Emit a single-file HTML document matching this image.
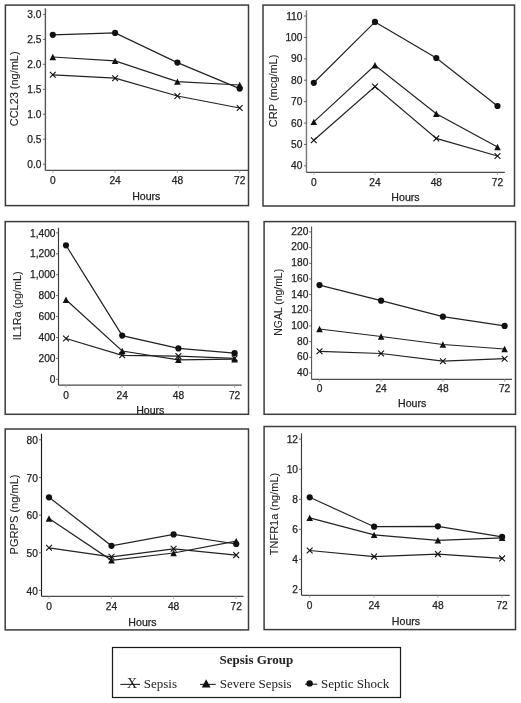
<!DOCTYPE html>
<html><head><meta charset="utf-8"><style>
html,body{margin:0;padding:0;background:#fff;width:521px;height:703px;overflow:hidden}
svg{display:block;will-change:transform}
text{font-family:"Liberation Sans",sans-serif;fill:#222;stroke:#222;stroke-width:0.25px}
</style></head><body>
<svg width="521" height="703" viewBox="0 0 521 703">
<rect width="521" height="703" fill="#fff"/>
<rect x="5.4" y="5.1" width="243.1" height="200.5" fill="none" stroke="#3c3c3c" stroke-width="1.5"/>
<line x1="45.4" y1="8.3" x2="45.4" y2="170.4" stroke="#555" stroke-width="1.4"/>
<line x1="45.4" y1="170.4" x2="248" y2="170.4" stroke="#4a4a4a" stroke-width="1.25"/>
<line x1="42.9" y1="14.4" x2="45.4" y2="14.4" stroke="#4a4a4a" stroke-width="0.8"/>
<text x="41.4" y="18" text-anchor="end" font-size="10.2">3.0</text>
<line x1="42.9" y1="39.4" x2="45.4" y2="39.4" stroke="#4a4a4a" stroke-width="0.8"/>
<text x="41.4" y="43" text-anchor="end" font-size="10.2">2.5</text>
<line x1="42.9" y1="64.3" x2="45.4" y2="64.3" stroke="#4a4a4a" stroke-width="0.8"/>
<text x="41.4" y="67.9" text-anchor="end" font-size="10.2">2.0</text>
<line x1="42.9" y1="89.3" x2="45.4" y2="89.3" stroke="#4a4a4a" stroke-width="0.8"/>
<text x="41.4" y="92.9" text-anchor="end" font-size="10.2">1.5</text>
<line x1="42.9" y1="114.2" x2="45.4" y2="114.2" stroke="#4a4a4a" stroke-width="0.8"/>
<text x="41.4" y="117.8" text-anchor="end" font-size="10.2">1.0</text>
<line x1="42.9" y1="139.2" x2="45.4" y2="139.2" stroke="#4a4a4a" stroke-width="0.8"/>
<text x="41.4" y="142.8" text-anchor="end" font-size="10.2">0.5</text>
<line x1="42.9" y1="164.2" x2="45.4" y2="164.2" stroke="#4a4a4a" stroke-width="0.8"/>
<text x="41.4" y="167.8" text-anchor="end" font-size="10.2">0.0</text>
<line x1="52.8" y1="170.4" x2="52.8" y2="172.9" stroke="#999" stroke-width="0.8"/>
<text x="52.8" y="184" text-anchor="middle" font-size="10.2">0</text>
<line x1="115.1" y1="170.4" x2="115.1" y2="172.9" stroke="#999" stroke-width="0.8"/>
<text x="115.1" y="184" text-anchor="middle" font-size="10.2">24</text>
<line x1="177.4" y1="170.4" x2="177.4" y2="172.9" stroke="#999" stroke-width="0.8"/>
<text x="177.4" y="184" text-anchor="middle" font-size="10.2">48</text>
<line x1="239.7" y1="170.4" x2="239.7" y2="172.9" stroke="#999" stroke-width="0.8"/>
<text x="239.7" y="184" text-anchor="middle" font-size="10.2">72</text>
<text x="146.3" y="199.8" text-anchor="middle" font-size="10.6">Hours</text>
<text transform="translate(18.3,88.85) rotate(-90)" x="0" y="0" text-anchor="middle" font-size="10.9" style="stroke-width:0.08px" textLength="74.8" lengthAdjust="spacingAndGlyphs">CCL23 (ng/mL)</text>
<polyline points="52.8,74.8 115.1,78.2 177.4,96 239.7,108" fill="none" stroke="#222" stroke-width="1.2"/>
<polyline points="52.8,57 115.1,60.9 177.4,81.6 239.7,85" fill="none" stroke="#222" stroke-width="1.2"/>
<polyline points="52.8,34.8 115.1,32.9 177.4,62.6 239.7,88.6" fill="none" stroke="#222" stroke-width="1.2"/>
<path d="M49.9 71.9L55.7 77.7M55.7 71.9L49.9 77.7" stroke="#111" stroke-width="1.1" fill="none"/>
<path d="M112.2 75.3L118 81.1M118 75.3L112.2 81.1" stroke="#111" stroke-width="1.1" fill="none"/>
<path d="M174.5 93.1L180.3 98.9M180.3 93.1L174.5 98.9" stroke="#111" stroke-width="1.1" fill="none"/>
<path d="M236.8 105.1L242.6 110.9M242.6 105.1L236.8 110.9" stroke="#111" stroke-width="1.1" fill="none"/>
<polygon points="52.8,53.8 56.1,60.2 49.5,60.2" fill="#111"/>
<polygon points="115.1,57.7 118.4,64.1 111.8,64.1" fill="#111"/>
<polygon points="177.4,78.4 180.7,84.8 174.1,84.8" fill="#111"/>
<polygon points="239.7,81.8 243,88.2 236.4,88.2" fill="#111"/>
<circle cx="52.8" cy="34.8" r="3.1" fill="#111"/>
<circle cx="115.1" cy="32.9" r="3.1" fill="#111"/>
<circle cx="177.4" cy="62.6" r="3.1" fill="#111"/>
<circle cx="239.7" cy="88.6" r="3.1" fill="#111"/>
<rect x="263" y="5.1" width="251.5" height="200.9" fill="none" stroke="#3c3c3c" stroke-width="1.5"/>
<line x1="306.45" y1="10.4" x2="306.45" y2="172.3" stroke="#777" stroke-width="1.4"/>
<line x1="306.45" y1="172.3" x2="504.8" y2="172.3" stroke="#4a4a4a" stroke-width="1.25"/>
<line x1="303.95" y1="16" x2="306.45" y2="16" stroke="#4a4a4a" stroke-width="0.8"/>
<text x="302.45" y="19.6" text-anchor="end" font-size="10.2">110</text>
<line x1="303.95" y1="37.41" x2="306.45" y2="37.41" stroke="#4a4a4a" stroke-width="0.8"/>
<text x="302.45" y="41.01" text-anchor="end" font-size="10.2">100</text>
<line x1="303.95" y1="58.82" x2="306.45" y2="58.82" stroke="#4a4a4a" stroke-width="0.8"/>
<text x="302.45" y="62.42" text-anchor="end" font-size="10.2">90</text>
<line x1="303.95" y1="80.23" x2="306.45" y2="80.23" stroke="#4a4a4a" stroke-width="0.8"/>
<text x="302.45" y="83.83" text-anchor="end" font-size="10.2">80</text>
<line x1="303.95" y1="101.64" x2="306.45" y2="101.64" stroke="#4a4a4a" stroke-width="0.8"/>
<text x="302.45" y="105.24" text-anchor="end" font-size="10.2">70</text>
<line x1="303.95" y1="123.05" x2="306.45" y2="123.05" stroke="#4a4a4a" stroke-width="0.8"/>
<text x="302.45" y="126.65" text-anchor="end" font-size="10.2">60</text>
<line x1="303.95" y1="144.46" x2="306.45" y2="144.46" stroke="#4a4a4a" stroke-width="0.8"/>
<text x="302.45" y="148.06" text-anchor="end" font-size="10.2">50</text>
<line x1="303.95" y1="165.87" x2="306.45" y2="165.87" stroke="#4a4a4a" stroke-width="0.8"/>
<text x="302.45" y="169.47" text-anchor="end" font-size="10.2">40</text>
<line x1="313.8" y1="172.3" x2="313.8" y2="174.8" stroke="#999" stroke-width="0.8"/>
<text x="313.8" y="185.7" text-anchor="middle" font-size="10.2">0</text>
<line x1="375" y1="172.3" x2="375" y2="174.8" stroke="#999" stroke-width="0.8"/>
<text x="375" y="185.7" text-anchor="middle" font-size="10.2">24</text>
<line x1="436.3" y1="172.3" x2="436.3" y2="174.8" stroke="#999" stroke-width="0.8"/>
<text x="436.3" y="185.7" text-anchor="middle" font-size="10.2">48</text>
<line x1="497.5" y1="172.3" x2="497.5" y2="174.8" stroke="#999" stroke-width="0.8"/>
<text x="497.5" y="185.7" text-anchor="middle" font-size="10.2">72</text>
<text x="405.5" y="201" text-anchor="middle" font-size="10.6">Hours</text>
<text transform="translate(277.4,90.9) rotate(-90)" x="0" y="0" text-anchor="middle" font-size="10.9" style="stroke-width:0.08px" textLength="72.6" lengthAdjust="spacingAndGlyphs">CRP (mcg/mL)</text>
<polyline points="313.8,140.3 375,86.6 436.3,138.4 497.5,156" fill="none" stroke="#222" stroke-width="1.2"/>
<polyline points="313.8,121.9 375,65.2 436.3,113.7 497.5,147" fill="none" stroke="#222" stroke-width="1.2"/>
<polyline points="313.8,82.8 375,21.9 436.3,58 497.5,106" fill="none" stroke="#222" stroke-width="1.2"/>
<path d="M310.9 137.4L316.7 143.2M316.7 137.4L310.9 143.2" stroke="#111" stroke-width="1.1" fill="none"/>
<path d="M372.1 83.7L377.9 89.5M377.9 83.7L372.1 89.5" stroke="#111" stroke-width="1.1" fill="none"/>
<path d="M433.4 135.5L439.2 141.3M439.2 135.5L433.4 141.3" stroke="#111" stroke-width="1.1" fill="none"/>
<path d="M494.6 153.1L500.4 158.9M500.4 153.1L494.6 158.9" stroke="#111" stroke-width="1.1" fill="none"/>
<polygon points="313.8,118.7 317.1,125.1 310.5,125.1" fill="#111"/>
<polygon points="375,62 378.3,68.4 371.7,68.4" fill="#111"/>
<polygon points="436.3,110.5 439.6,116.9 433,116.9" fill="#111"/>
<polygon points="497.5,143.8 500.8,150.2 494.2,150.2" fill="#111"/>
<circle cx="313.8" cy="82.8" r="3.1" fill="#111"/>
<circle cx="375" cy="21.9" r="3.1" fill="#111"/>
<circle cx="436.3" cy="58" r="3.1" fill="#111"/>
<circle cx="497.5" cy="106" r="3.1" fill="#111"/>
<rect x="5.2" y="221.6" width="243.3" height="192.7" fill="none" stroke="#3c3c3c" stroke-width="1.5"/>
<line x1="58.5" y1="227.7" x2="58.5" y2="385.2" stroke="#3a3a3a" stroke-width="1.15"/>
<line x1="58.5" y1="385.2" x2="241.7" y2="385.2" stroke="#4a4a4a" stroke-width="1.25"/>
<line x1="56" y1="232.9" x2="58.5" y2="232.9" stroke="#4a4a4a" stroke-width="0.8"/>
<text x="55.5" y="236.5" text-anchor="end" font-size="10.2">1,400</text>
<line x1="56" y1="253.81" x2="58.5" y2="253.81" stroke="#4a4a4a" stroke-width="0.8"/>
<text x="55.5" y="257.41" text-anchor="end" font-size="10.2">1,200</text>
<line x1="56" y1="274.73" x2="58.5" y2="274.73" stroke="#4a4a4a" stroke-width="0.8"/>
<text x="55.5" y="278.33" text-anchor="end" font-size="10.2">1,000</text>
<line x1="56" y1="295.64" x2="58.5" y2="295.64" stroke="#4a4a4a" stroke-width="0.8"/>
<text x="55.5" y="299.24" text-anchor="end" font-size="10.2">800</text>
<line x1="56" y1="316.56" x2="58.5" y2="316.56" stroke="#4a4a4a" stroke-width="0.8"/>
<text x="55.5" y="320.16" text-anchor="end" font-size="10.2">600</text>
<line x1="56" y1="337.47" x2="58.5" y2="337.47" stroke="#4a4a4a" stroke-width="0.8"/>
<text x="55.5" y="341.07" text-anchor="end" font-size="10.2">400</text>
<line x1="56" y1="358.38" x2="58.5" y2="358.38" stroke="#4a4a4a" stroke-width="0.8"/>
<text x="55.5" y="361.98" text-anchor="end" font-size="10.2">200</text>
<line x1="56" y1="379.3" x2="58.5" y2="379.3" stroke="#4a4a4a" stroke-width="0.8"/>
<text x="55.5" y="382.9" text-anchor="end" font-size="10.2">0</text>
<line x1="66" y1="385.2" x2="66" y2="387.7" stroke="#999" stroke-width="0.8"/>
<text x="66" y="398.6" text-anchor="middle" font-size="10.2">0</text>
<line x1="122.2" y1="385.2" x2="122.2" y2="387.7" stroke="#999" stroke-width="0.8"/>
<text x="122.2" y="398.6" text-anchor="middle" font-size="10.2">24</text>
<line x1="178.4" y1="385.2" x2="178.4" y2="387.7" stroke="#999" stroke-width="0.8"/>
<text x="178.4" y="398.6" text-anchor="middle" font-size="10.2">48</text>
<line x1="234.6" y1="385.2" x2="234.6" y2="387.7" stroke="#999" stroke-width="0.8"/>
<text x="234.6" y="398.6" text-anchor="middle" font-size="10.2">72</text>
<text x="150.3" y="413.6" text-anchor="middle" font-size="10.6">Hours</text>
<text transform="translate(21.3,305.9) rotate(-90)" x="0" y="0" text-anchor="middle" font-size="10.2" style="stroke-width:0.08px" textLength="68.9" lengthAdjust="spacingAndGlyphs">IL1Ra (pg/mL)</text>
<polyline points="66,338.5 122.2,355.3 178.4,356.1 234.6,358.3" fill="none" stroke="#222" stroke-width="1.2"/>
<polyline points="66,299.8 122.2,351 178.4,359.8 234.6,359.2" fill="none" stroke="#222" stroke-width="1.2"/>
<polyline points="66,245.3 122.2,335.6 178.4,348.4 234.6,353.2" fill="none" stroke="#222" stroke-width="1.2"/>
<path d="M63.1 335.6L68.9 341.4M68.9 335.6L63.1 341.4" stroke="#111" stroke-width="1.1" fill="none"/>
<path d="M119.3 352.4L125.1 358.2M125.1 352.4L119.3 358.2" stroke="#111" stroke-width="1.1" fill="none"/>
<path d="M175.5 353.2L181.3 359M181.3 353.2L175.5 359" stroke="#111" stroke-width="1.1" fill="none"/>
<path d="M231.7 355.4L237.5 361.2M237.5 355.4L231.7 361.2" stroke="#111" stroke-width="1.1" fill="none"/>
<polygon points="66,296.6 69.3,303 62.7,303" fill="#111"/>
<polygon points="122.2,347.8 125.5,354.2 118.9,354.2" fill="#111"/>
<polygon points="178.4,356.6 181.7,363 175.1,363" fill="#111"/>
<polygon points="234.6,356 237.9,362.4 231.3,362.4" fill="#111"/>
<circle cx="66" cy="245.3" r="3.1" fill="#111"/>
<circle cx="122.2" cy="335.6" r="3.1" fill="#111"/>
<circle cx="178.4" cy="348.4" r="3.1" fill="#111"/>
<circle cx="234.6" cy="353.2" r="3.1" fill="#111"/>
<rect x="264.1" y="221.6" width="251.4" height="192.7" fill="none" stroke="#3c3c3c" stroke-width="1.5"/>
<line x1="311.55" y1="226.5" x2="311.55" y2="379.4" stroke="#555" stroke-width="1.15"/>
<line x1="311.55" y1="379.4" x2="512" y2="379.4" stroke="#4a4a4a" stroke-width="1.25"/>
<line x1="309.05" y1="231.9" x2="311.55" y2="231.9" stroke="#4a4a4a" stroke-width="0.8"/>
<text x="308.35" y="234.8" text-anchor="end" font-size="10.2">220</text>
<line x1="309.05" y1="247.58" x2="311.55" y2="247.58" stroke="#4a4a4a" stroke-width="0.8"/>
<text x="308.35" y="250.48" text-anchor="end" font-size="10.2">200</text>
<line x1="309.05" y1="263.26" x2="311.55" y2="263.26" stroke="#4a4a4a" stroke-width="0.8"/>
<text x="308.35" y="266.16" text-anchor="end" font-size="10.2">180</text>
<line x1="309.05" y1="278.94" x2="311.55" y2="278.94" stroke="#4a4a4a" stroke-width="0.8"/>
<text x="308.35" y="281.84" text-anchor="end" font-size="10.2">160</text>
<line x1="309.05" y1="294.62" x2="311.55" y2="294.62" stroke="#4a4a4a" stroke-width="0.8"/>
<text x="308.35" y="297.52" text-anchor="end" font-size="10.2">140</text>
<line x1="309.05" y1="310.3" x2="311.55" y2="310.3" stroke="#4a4a4a" stroke-width="0.8"/>
<text x="308.35" y="313.2" text-anchor="end" font-size="10.2">120</text>
<line x1="309.05" y1="325.98" x2="311.55" y2="325.98" stroke="#4a4a4a" stroke-width="0.8"/>
<text x="308.35" y="328.88" text-anchor="end" font-size="10.2">100</text>
<line x1="309.05" y1="341.66" x2="311.55" y2="341.66" stroke="#4a4a4a" stroke-width="0.8"/>
<text x="308.35" y="344.56" text-anchor="end" font-size="10.2">80</text>
<line x1="309.05" y1="357.34" x2="311.55" y2="357.34" stroke="#4a4a4a" stroke-width="0.8"/>
<text x="308.35" y="360.24" text-anchor="end" font-size="10.2">60</text>
<line x1="309.05" y1="373.02" x2="311.55" y2="373.02" stroke="#4a4a4a" stroke-width="0.8"/>
<text x="308.35" y="375.92" text-anchor="end" font-size="10.2">40</text>
<line x1="319.5" y1="379.4" x2="319.5" y2="381.9" stroke="#999" stroke-width="0.8"/>
<text x="319.5" y="392.4" text-anchor="middle" font-size="10.2">0</text>
<line x1="381.1" y1="379.4" x2="381.1" y2="381.9" stroke="#999" stroke-width="0.8"/>
<text x="381.1" y="392.4" text-anchor="middle" font-size="10.2">24</text>
<line x1="442.9" y1="379.4" x2="442.9" y2="381.9" stroke="#999" stroke-width="0.8"/>
<text x="442.9" y="392.4" text-anchor="middle" font-size="10.2">48</text>
<line x1="504.6" y1="379.4" x2="504.6" y2="381.9" stroke="#999" stroke-width="0.8"/>
<text x="504.6" y="392.4" text-anchor="middle" font-size="10.2">72</text>
<text x="412.2" y="406.9" text-anchor="middle" font-size="10.6">Hours</text>
<text transform="translate(282.2,302.3) rotate(-90)" x="0" y="0" text-anchor="middle" font-size="10.9" style="stroke-width:0.08px" textLength="66.8" lengthAdjust="spacingAndGlyphs">NGAL (ng/mL)</text>
<polyline points="319.5,351.3 381.1,353.5 442.9,361.2 504.6,358.7" fill="none" stroke="#222" stroke-width="1.2"/>
<polyline points="319.5,329 381.1,336.5 442.9,344.5 504.6,349" fill="none" stroke="#222" stroke-width="1.2"/>
<polyline points="319.5,285.1 381.1,300.7 442.9,316.7 504.6,325.9" fill="none" stroke="#222" stroke-width="1.2"/>
<path d="M316.6 348.4L322.4 354.2M322.4 348.4L316.6 354.2" stroke="#111" stroke-width="1.1" fill="none"/>
<path d="M378.2 350.6L384 356.4M384 350.6L378.2 356.4" stroke="#111" stroke-width="1.1" fill="none"/>
<path d="M440 358.3L445.8 364.1M445.8 358.3L440 364.1" stroke="#111" stroke-width="1.1" fill="none"/>
<path d="M501.7 355.8L507.5 361.6M507.5 355.8L501.7 361.6" stroke="#111" stroke-width="1.1" fill="none"/>
<polygon points="319.5,325.8 322.8,332.2 316.2,332.2" fill="#111"/>
<polygon points="381.1,333.3 384.4,339.7 377.8,339.7" fill="#111"/>
<polygon points="442.9,341.3 446.2,347.7 439.6,347.7" fill="#111"/>
<polygon points="504.6,345.8 507.9,352.2 501.3,352.2" fill="#111"/>
<circle cx="319.5" cy="285.1" r="3.1" fill="#111"/>
<circle cx="381.1" cy="300.7" r="3.1" fill="#111"/>
<circle cx="442.9" cy="316.7" r="3.1" fill="#111"/>
<circle cx="504.6" cy="325.9" r="3.1" fill="#111"/>
<rect x="5.2" y="429" width="243.3" height="200.9" fill="none" stroke="#3c3c3c" stroke-width="1.5"/>
<line x1="41.5" y1="433.8" x2="41.5" y2="596.3" stroke="#1a1a1a" stroke-width="1.15"/>
<line x1="41.5" y1="596.3" x2="243.5" y2="596.3" stroke="#4a4a4a" stroke-width="1.25"/>
<line x1="39" y1="439.8" x2="41.5" y2="439.8" stroke="#4a4a4a" stroke-width="0.8"/>
<text x="37.9" y="443.9" text-anchor="end" font-size="10.2">80</text>
<line x1="39" y1="477.45" x2="41.5" y2="477.45" stroke="#4a4a4a" stroke-width="0.8"/>
<text x="37.9" y="481.55" text-anchor="end" font-size="10.2">70</text>
<line x1="39" y1="515.1" x2="41.5" y2="515.1" stroke="#4a4a4a" stroke-width="0.8"/>
<text x="37.9" y="519.2" text-anchor="end" font-size="10.2">60</text>
<line x1="39" y1="552.75" x2="41.5" y2="552.75" stroke="#4a4a4a" stroke-width="0.8"/>
<text x="37.9" y="556.85" text-anchor="end" font-size="10.2">50</text>
<line x1="39" y1="590.4" x2="41.5" y2="590.4" stroke="#4a4a4a" stroke-width="0.8"/>
<text x="37.9" y="594.5" text-anchor="end" font-size="10.2">40</text>
<line x1="49" y1="596.3" x2="49" y2="598.8" stroke="#999" stroke-width="0.8"/>
<text x="49" y="610.3" text-anchor="middle" font-size="10.2">0</text>
<line x1="111.5" y1="596.3" x2="111.5" y2="598.8" stroke="#999" stroke-width="0.8"/>
<text x="111.5" y="610.3" text-anchor="middle" font-size="10.2">24</text>
<line x1="173.6" y1="596.3" x2="173.6" y2="598.8" stroke="#999" stroke-width="0.8"/>
<text x="173.6" y="610.3" text-anchor="middle" font-size="10.2">48</text>
<line x1="236.2" y1="596.3" x2="236.2" y2="598.8" stroke="#999" stroke-width="0.8"/>
<text x="236.2" y="610.3" text-anchor="middle" font-size="10.2">72</text>
<text x="142.5" y="625.9" text-anchor="middle" font-size="10.6">Hours</text>
<text transform="translate(17.9,514.5) rotate(-90)" x="0" y="0" text-anchor="middle" font-size="10.9" style="stroke-width:0.08px" textLength="80" lengthAdjust="spacingAndGlyphs">PGRPS (ng/mL)</text>
<polyline points="49,547.8 111.5,556.8 173.6,548.8 236.2,555.1" fill="none" stroke="#222" stroke-width="1.2"/>
<polyline points="49,518.5 111.5,560.3 173.6,553 236.2,541.1" fill="none" stroke="#222" stroke-width="1.2"/>
<polyline points="49,497.3 111.5,545.8 173.6,534.4 236.2,544" fill="none" stroke="#222" stroke-width="1.2"/>
<path d="M46.1 544.9L51.9 550.7M51.9 544.9L46.1 550.7" stroke="#111" stroke-width="1.1" fill="none"/>
<path d="M108.6 553.9L114.4 559.7M114.4 553.9L108.6 559.7" stroke="#111" stroke-width="1.1" fill="none"/>
<path d="M170.7 545.9L176.5 551.7M176.5 545.9L170.7 551.7" stroke="#111" stroke-width="1.1" fill="none"/>
<path d="M233.3 552.2L239.1 558M239.1 552.2L233.3 558" stroke="#111" stroke-width="1.1" fill="none"/>
<polygon points="49,515.3 52.3,521.7 45.7,521.7" fill="#111"/>
<polygon points="111.5,557.1 114.8,563.5 108.2,563.5" fill="#111"/>
<polygon points="173.6,549.8 176.9,556.2 170.3,556.2" fill="#111"/>
<polygon points="236.2,537.9 239.5,544.3 232.9,544.3" fill="#111"/>
<circle cx="49" cy="497.3" r="3.1" fill="#111"/>
<circle cx="111.5" cy="545.8" r="3.1" fill="#111"/>
<circle cx="173.6" cy="534.4" r="3.1" fill="#111"/>
<circle cx="236.2" cy="544" r="3.1" fill="#111"/>
<rect x="264.1" y="426.5" width="251.4" height="203.1" fill="none" stroke="#3c3c3c" stroke-width="1.5"/>
<line x1="301.5" y1="433.4" x2="301.5" y2="595.3" stroke="#3a3a3a" stroke-width="1.15"/>
<line x1="301.5" y1="595.3" x2="509.7" y2="595.3" stroke="#4a4a4a" stroke-width="1.25"/>
<line x1="299" y1="439.2" x2="301.5" y2="439.2" stroke="#4a4a4a" stroke-width="0.8"/>
<text x="298" y="442.8" text-anchor="end" font-size="10.2">12</text>
<line x1="299" y1="469.26" x2="301.5" y2="469.26" stroke="#4a4a4a" stroke-width="0.8"/>
<text x="298" y="472.86" text-anchor="end" font-size="10.2">10</text>
<line x1="299" y1="499.32" x2="301.5" y2="499.32" stroke="#4a4a4a" stroke-width="0.8"/>
<text x="298" y="502.92" text-anchor="end" font-size="10.2">8</text>
<line x1="299" y1="529.38" x2="301.5" y2="529.38" stroke="#4a4a4a" stroke-width="0.8"/>
<text x="298" y="532.98" text-anchor="end" font-size="10.2">6</text>
<line x1="299" y1="559.44" x2="301.5" y2="559.44" stroke="#4a4a4a" stroke-width="0.8"/>
<text x="298" y="563.04" text-anchor="end" font-size="10.2">4</text>
<line x1="299" y1="589.5" x2="301.5" y2="589.5" stroke="#4a4a4a" stroke-width="0.8"/>
<text x="298" y="593.1" text-anchor="end" font-size="10.2">2</text>
<line x1="309.7" y1="595.3" x2="309.7" y2="597.8" stroke="#999" stroke-width="0.8"/>
<text x="309.7" y="609.3" text-anchor="middle" font-size="10.2">0</text>
<line x1="374.1" y1="595.3" x2="374.1" y2="597.8" stroke="#999" stroke-width="0.8"/>
<text x="374.1" y="609.3" text-anchor="middle" font-size="10.2">24</text>
<line x1="437.9" y1="595.3" x2="437.9" y2="597.8" stroke="#999" stroke-width="0.8"/>
<text x="437.9" y="609.3" text-anchor="middle" font-size="10.2">48</text>
<line x1="502.1" y1="595.3" x2="502.1" y2="597.8" stroke="#999" stroke-width="0.8"/>
<text x="502.1" y="609.3" text-anchor="middle" font-size="10.2">72</text>
<text x="406" y="625" text-anchor="middle" font-size="10.6">Hours</text>
<text transform="translate(278.2,514) rotate(-90)" x="0" y="0" text-anchor="middle" font-size="10.9" style="stroke-width:0.08px" textLength="82.3" lengthAdjust="spacingAndGlyphs">TNFR1a (ng/mL)</text>
<polyline points="309.7,550.5 374.1,556.6 437.9,554.1 502.1,558.4" fill="none" stroke="#222" stroke-width="1.2"/>
<polyline points="309.7,517.9 374.1,534.9 437.9,540.3 502.1,537.8" fill="none" stroke="#222" stroke-width="1.2"/>
<polyline points="309.7,497.3 374.1,526.7 437.9,526.3 502.1,536.9" fill="none" stroke="#222" stroke-width="1.2"/>
<path d="M306.8 547.6L312.6 553.4M312.6 547.6L306.8 553.4" stroke="#111" stroke-width="1.1" fill="none"/>
<path d="M371.2 553.7L377 559.5M377 553.7L371.2 559.5" stroke="#111" stroke-width="1.1" fill="none"/>
<path d="M435 551.2L440.8 557M440.8 551.2L435 557" stroke="#111" stroke-width="1.1" fill="none"/>
<path d="M499.2 555.5L505 561.3M505 555.5L499.2 561.3" stroke="#111" stroke-width="1.1" fill="none"/>
<polygon points="309.7,514.7 313,521.1 306.4,521.1" fill="#111"/>
<polygon points="374.1,531.7 377.4,538.1 370.8,538.1" fill="#111"/>
<polygon points="437.9,537.1 441.2,543.5 434.6,543.5" fill="#111"/>
<polygon points="502.1,534.6 505.4,541 498.8,541" fill="#111"/>
<circle cx="309.7" cy="497.3" r="3.1" fill="#111"/>
<circle cx="374.1" cy="526.7" r="3.1" fill="#111"/>
<circle cx="437.9" cy="526.3" r="3.1" fill="#111"/>
<circle cx="502.1" cy="536.9" r="3.1" fill="#111"/>
<rect x="112.5" y="647.5" width="288" height="50" fill="none" stroke="#1a1a1a" stroke-width="1.2"/>
<text x="256.4" y="664.2" text-anchor="middle" style="font-family:&quot;Liberation Serif&quot;,serif;stroke:none" font-weight="bold" font-size="13">Sepsis Group</text>
<line x1="120.4" y1="684.4" x2="140" y2="684.4" stroke="#222" stroke-width="1.1"/>
<text x="132.1" y="687.9" text-anchor="middle" style="font-family:&quot;Liberation Serif&quot;,serif;stroke:none" font-size="14">X</text>
<text x="143.8" y="687.8" style="font-family:&quot;Liberation Serif&quot;,serif;stroke:none" font-size="13">Sepsis</text>
<line x1="200" y1="684.4" x2="215.7" y2="684.4" stroke="#222" stroke-width="1.1"/>
<polygon points="206.1,679.2 210.6,687.6 201.8,687.6" fill="#111"/>
<text x="219.8" y="687.8" style="font-family:&quot;Liberation Serif&quot;,serif;stroke:none" font-size="13">Severe Sepsis</text>
<line x1="305" y1="684.2" x2="317.3" y2="684.2" stroke="#222" stroke-width="1.1"/>
<circle cx="309.6" cy="683.4" r="3.2" fill="#111"/>
<text x="321.1" y="687.8" style="font-family:&quot;Liberation Serif&quot;,serif;stroke:none" font-size="13">Septic Shock</text>
</svg>
</body></html>
